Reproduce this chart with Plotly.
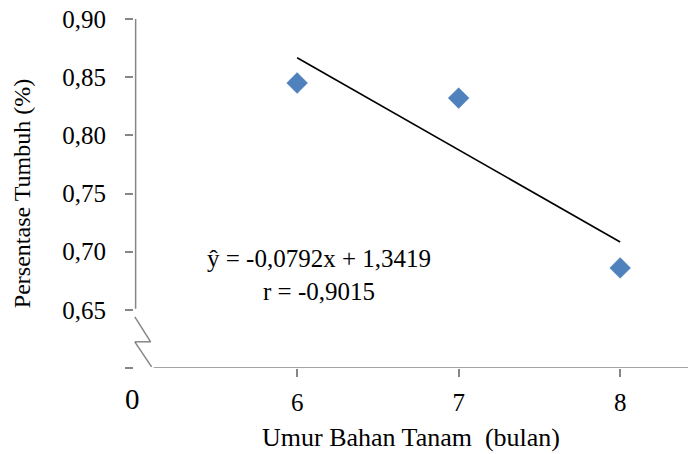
import plotly.graph_objects as go

# Data
umur = [6, 7, 8]
persentase = [0.845, 0.832, 0.686]
slope = -0.0792
intercept = 1.3419
y_ticks = [0.60, 0.65, 0.70, 0.75, 0.80, 0.85, 0.90]
y_tick_text = ["", "0,65", "0,70", "0,75", "0,80", "0,85", "0,90"]
x_ticks = [6, 7, 8]
x_tick_text = ["6", "7", "8"]

FONT = "Liberation Serif, Times New Roman, Times, serif"
AXIS_COLOR = "#868686"

fit_x = [umur[0], umur[-1]]
fit_y = [slope * v + intercept for v in fit_x]

fig = go.Figure()
fig.add_trace(go.Scatter(
    x=umur, y=persentase, mode="markers",
    marker=dict(symbol="diamond", size=16, color="#4F81BD",
                line=dict(width=0.5, color="#4A7EBB")),
    showlegend=False,
))
fig.add_trace(go.Scatter(
    x=fit_x, y=fit_y, mode="lines",
    line=dict(color="black", width=1.6),
    showlegend=False,
))

# Axis lines with break
line_style = dict(color=AXIS_COLOR, width=1.5)
fig.add_shape(type="line", xref="x", yref="y", x0=5.0, x1=5.0, y0=0.651, y1=0.90, line=line_style)
fig.add_shape(type="line", xref="x", yref="y", x0=4.995, x1=5.093, y0=0.644, y1=0.6225, line=line_style)
fig.add_shape(type="line", xref="x", yref="y", x0=5.093, x1=4.995, y0=0.6225, y1=0.6225, line=line_style)
fig.add_shape(type="line", xref="x", yref="y", x0=4.995, x1=5.099, y0=0.6225, y1=0.601, line=line_style)
fig.add_shape(type="line", xref="x", yref="y", x0=5.112, x1=8.42, y0=0.60, y1=0.60, line=line_style)

fig.add_annotation(x=5.0, y=0.60, xref="x", yref="y", text="0", showarrow=False,
                   xshift=-3, yshift=-31, font=dict(family=FONT, size=29, color="black"))
fig.add_annotation(x=6.137, y=0.680, xref="x", yref="y",
                   text="ŷ = -0,0792x + 1,3419<br>r = -0,9015", showarrow=False,
                   align="center", font=dict(family=FONT, size=25, color="black"))

fig.update_layout(
    width=688, height=454,
    margin=dict(l=134, r=0, t=19, b=86, autoexpand=False),
    paper_bgcolor="white", plot_bgcolor="white",
    font=dict(family=FONT, size=25, color="black"),
    xaxis=dict(range=[4.99, 8.42], showgrid=False, zeroline=False, showline=False,
               automargin=False,
               tickvals=x_ticks, ticktext=x_tick_text, ticks="outside", ticklen=8,
               tickcolor=AXIS_COLOR, tickwidth=1.5, ticklabelstandoff=4,
               ticklabeloverflow="allow",
               tickfont=dict(family=FONT, size=25, color="black"),
               title=dict(text="Umur Bahan Tanam  (bulan)", standoff=12,
                          font=dict(family=FONT, size=26, color="black"))),
    yaxis=dict(range=[0.60, 0.90], showgrid=False, zeroline=False, showline=False,
               automargin=False,
               tickvals=y_ticks, ticktext=y_tick_text, ticks="outside", ticklen=8,
               tickcolor=AXIS_COLOR, tickwidth=1.5, ticklabelstandoff=14,
               ticklabeloverflow="allow",
               tickfont=dict(family=FONT, size=25, color="black"),
               title=dict(text="Persentase Tumbuh (%)", standoff=24,
                          font=dict(family=FONT, size=24, color="black"))),
)

fig.write_html(
    "out.html",
    config={"displayModeBar": False},
    post_script="document.body.style.margin='0';document.body.style.overflow='hidden';",
)
